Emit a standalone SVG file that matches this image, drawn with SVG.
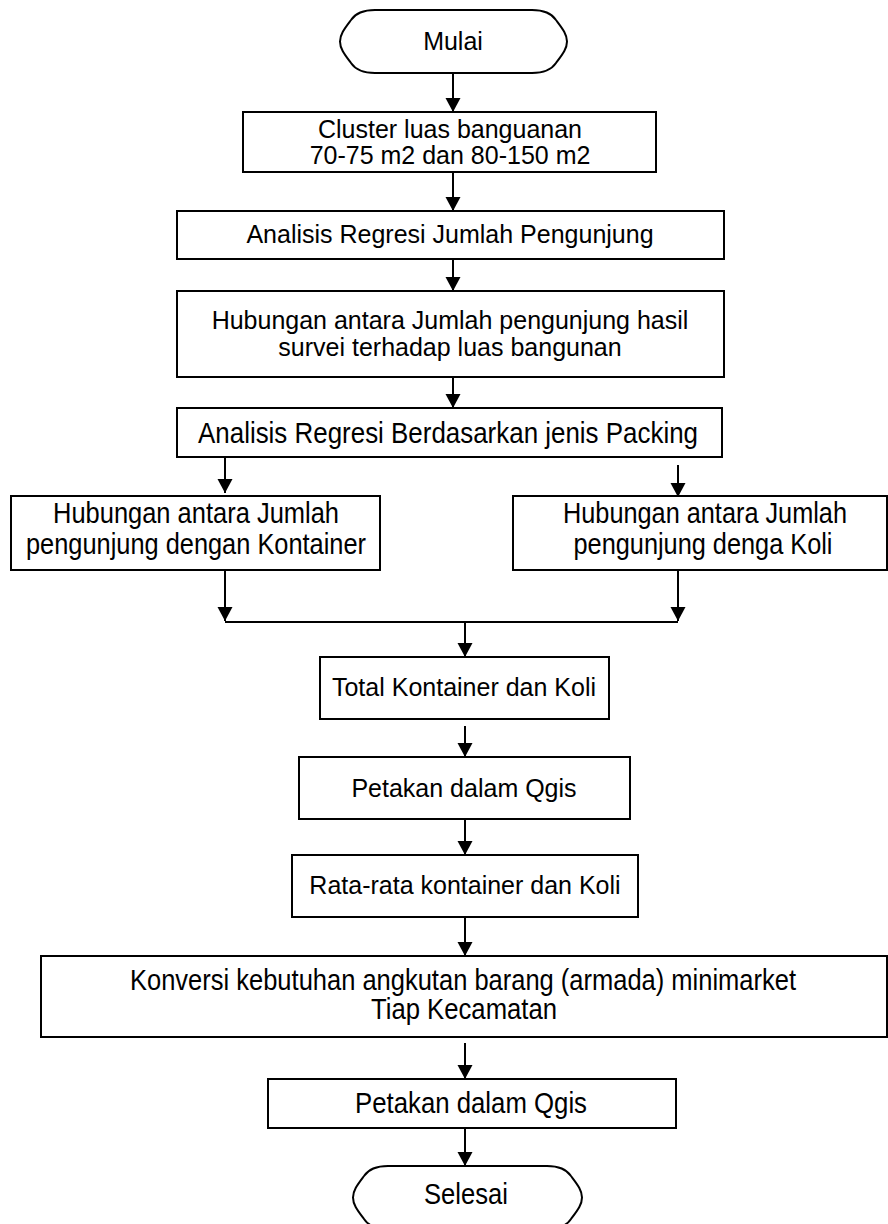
<svg xmlns="http://www.w3.org/2000/svg" width="888" height="1224" viewBox="0 0 888 1224">
<defs>
<style>
.box{fill:#fff;stroke:#000;stroke-width:2}
.t{font-family:"Liberation Sans",Arial,sans-serif;font-size:25px;fill:#000;text-anchor:middle}
.n{font-family:"Liberation Sans",Arial,sans-serif;font-size:29px;fill:#000;text-anchor:middle}
.c{fill:none;stroke:#000;stroke-width:2}
</style>
<marker id="ah" markerUnits="userSpaceOnUse" markerWidth="16" markerHeight="16" refX="14" refY="7.5" orient="auto">
<path d="M0,0 L14,7.5 L0,15 Z" fill="#000"/>
</marker>
</defs>
<rect width="888" height="1224" fill="#fff"/>

<g id="connectors">
<line class="c" x1="453" y1="73" x2="453" y2="112" marker-end="url(#ah)"/>
<line class="c" x1="453" y1="172" x2="453" y2="211" marker-end="url(#ah)"/>
<line class="c" x1="453" y1="259" x2="453" y2="291" marker-end="url(#ah)"/>
<line class="c" x1="453" y1="377" x2="453" y2="408" marker-end="url(#ah)"/>
<line class="c" x1="225" y1="457" x2="225" y2="493" marker-end="url(#ah)"/>
<line class="c" x1="678" y1="465" x2="678" y2="497" marker-end="url(#ah)"/>
<line class="c" x1="225" y1="570" x2="225" y2="621" marker-end="url(#ah)"/>
<line class="c" x1="678" y1="570" x2="678" y2="621" marker-end="url(#ah)"/>
<line class="c" x1="225" y1="622" x2="678" y2="622"/>
<line class="c" x1="465" y1="622" x2="465" y2="657" marker-end="url(#ah)"/>
<line class="c" x1="465" y1="726" x2="465" y2="757" marker-end="url(#ah)"/>
<line class="c" x1="465" y1="819" x2="465" y2="855" marker-end="url(#ah)"/>
<line class="c" x1="465" y1="917" x2="465" y2="956" marker-end="url(#ah)"/>
<line class="c" x1="465" y1="1043" x2="465" y2="1079" marker-end="url(#ah)"/>
<line class="c" x1="465" y1="1128" x2="465" y2="1166" marker-end="url(#ah)"/>
</g>

<g id="mulai">
<path class="box" d="M375,10 H532 C546,10 552,14 556,20 C562,28 567,34 567,41.5 C567,49 562,55 556,63 C552,69 546,73 532,73 H375 C361,73 355,69 351,63 C345,55 340,49 340,41.5 C340,34 345,28 351,20 C355,14 361,10 375,10 Z"/>
<text class="t" x="453" y="50">Mulai</text>
</g>

<g id="cluster">
<rect class="box" x="243" y="112" width="413" height="60"/>
<text class="t" x="450" y="138">Cluster luas banguanan</text>
<text class="t" x="450" y="164">70-75 m2 dan 80-150 m2</text>
</g>

<g id="regresi-pengunjung">
<rect class="box" x="177" y="211" width="547" height="48"/>
<text class="t" x="450" y="243">Analisis Regresi Jumlah Pengunjung</text>
</g>

<g id="hubungan-luas">
<rect class="box" x="177" y="291" width="547" height="86"/>
<text class="t" x="450" y="329">Hubungan antara Jumlah pengunjung hasil</text>
<text class="t" x="450" y="356">survei terhadap luas bangunan</text>
</g>

<g id="regresi-packing">
<rect class="box" x="177" y="408" width="545" height="49"/>
<text class="n" x="448" y="443" textLength="500" lengthAdjust="spacingAndGlyphs">Analisis Regresi Berdasarkan jenis Packing</text>
</g>

<g id="hubungan-kontainer">
<rect class="box" x="11" y="496" width="369" height="74"/>
<text class="n" x="196" y="523" textLength="286" lengthAdjust="spacingAndGlyphs">Hubungan antara Jumlah</text>
<text class="n" x="196" y="554" textLength="340" lengthAdjust="spacingAndGlyphs">pengunjung dengan Kontainer</text>
</g>

<g id="hubungan-koli">
<rect class="box" x="513" y="496" width="374" height="74"/>
<text class="n" x="705" y="523" textLength="284" lengthAdjust="spacingAndGlyphs">Hubungan antara Jumlah</text>
<text class="n" x="703" y="554" textLength="259" lengthAdjust="spacingAndGlyphs">pengunjung denga Koli</text>
</g>

<g id="total">
<rect class="box" x="320" y="657" width="289" height="62"/>
<text class="t" x="464" y="696">Total Kontainer dan Koli</text>
</g>

<g id="petakan-1">
<rect class="box" x="299" y="757" width="331" height="62"/>
<text class="t" x="464" y="797">Petakan dalam Qgis</text>
</g>

<g id="rata-rata">
<rect class="box" x="292" y="855" width="346" height="62"/>
<text class="t" x="465" y="894">Rata-rata kontainer dan Koli</text>
</g>

<g id="konversi">
<rect class="box" x="41" y="956" width="846" height="81"/>
<text class="n" x="463" y="990" textLength="666" lengthAdjust="spacingAndGlyphs">Konversi kebutuhan angkutan barang (armada) minimarket</text>
<text class="n" x="464" y="1019" textLength="186" lengthAdjust="spacingAndGlyphs">Tiap Kecamatan</text>
</g>

<g id="petakan-2">
<rect class="box" x="268" y="1079" width="408" height="49"/>
<text class="n" x="471" y="1113" textLength="232" lengthAdjust="spacingAndGlyphs">Petakan dalam Qgis</text>
</g>

<g id="selesai">
<path class="box" d="M388,1166 H547 C561,1166 567,1170 571,1176 C577,1184 582,1190 582,1197.5 C582,1205 577,1211 571,1219 C567,1225 561,1229 547,1229 H388 C374,1229 368,1225 364,1219 C358,1211 353,1205 353,1197.5 C353,1190 358,1184 364,1176 C368,1170 374,1166 388,1166 Z"/>
<text class="n" x="466" y="1204" textLength="84" lengthAdjust="spacingAndGlyphs">Selesai</text>
</g>
</svg>
